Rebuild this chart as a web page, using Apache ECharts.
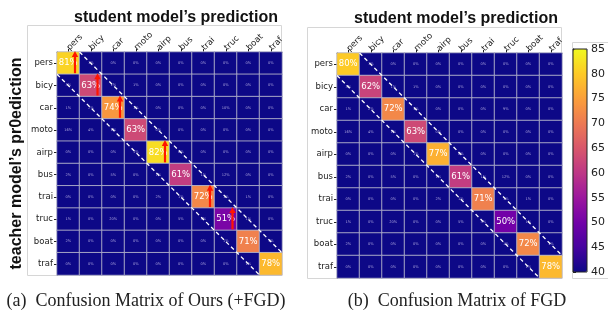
<!DOCTYPE html>
<html>
<head>
<meta charset="utf-8">
<script src="https://cdn.jsdelivr.net/npm/echarts@6/dist/echarts.min.js"></script>
<style>
	html, body { margin: 0; padding: 0; background: #fff; }
	#main { width: 608px; height: 314px; }
</style>
</head>
<body>
<div id="main"></div>
<script>
	// class names (rows = teacher, columns = student)
	var classes = ['pers', 'bicy', 'car', 'moto', 'airp', 'bus', 'trai', 'truc', 'boat', 'traf'];

	// confusion matrix (%) of Ours (+FGD)
	var oursRows = [
		[81, 1, 0, 0, 0, 0, 0, 0, 0, 0],
		[3, 63, 1, 1, 0, 0, 0, 0, 0, 0],
		[1, 2, 74, 1, 0, 0, 0, 10, 0, 0],
		[16, 4, 1, 63, 0, 0, 0, 0, 0, 0],
		[0, 0, 0, 1, 82, 0, 0, 0, 0, 0],
		[2, 0, 5, 0, 1, 61, 1, 12, 0, 0],
		[0, 0, 0, 0, 2, 1, 72, 1, 1, 0],
		[1, 0, 20, 0, 0, 5, 3, 51, 1, 0],
		[2, 0, 0, 0, 0, 0, 0, 1, 71, 1],
		[0, 0, 0, 0, 0, 0, 0, 0, 1, 78]
	];
	// confusion matrix (%) of FGD
	var fgdRows = [
		[80, 1, 0, 0, 0, 0, 0, 0, 0, 0],
		[3, 62, 1, 1, 0, 0, 0, 0, 0, 0],
		[1, 2, 72, 1, 0, 0, 0, 9, 0, 0],
		[16, 4, 1, 63, 0, 0, 0, 0, 0, 0],
		[0, 0, 0, 1, 77, 0, 0, 0, 0, 0],
		[2, 0, 5, 0, 1, 61, 1, 12, 0, 0],
		[0, 0, 0, 0, 2, 1, 71, 1, 1, 0],
		[1, 0, 20, 0, 0, 5, 3, 50, 1, 0],
		[2, 0, 0, 0, 0, 0, 0, 1, 72, 1],
		[0, 0, 0, 0, 0, 0, 0, 0, 1, 78]
	];
	// cells marked with a red arrow (improved over FGD): [col, row]
	var arrowCells = [[0, 0], [1, 1], [2, 2], [4, 4], [6, 6], [7, 7]];
	// dashed band around the diagonal (offset in cells)
	var bandOffsets = [[1], [-1]];
	// colorbar range
	var cbMin = 40, cbMax = 85, cbStep = 5;

	var plasma = ['#0d0887', '#46039f', '#7201a8', '#9c179e', '#bd3786', '#d8576b', '#ed7953', '#fb9f3a', '#fdca26', '#f0f921'];

	function toCells(rows) {
		var out = [];
		for (var r = 0; r < rows.length; r++) {
			for (var c = 0; c < rows[r].length; c++) {
				var diag = r === c;
				out.push({
					value: [c, r, rows[r][c]],
					label: diag
						? { fontSize: 8.5, color: '#fff' }
						: { fontSize: 3.6, color: '#aaa3dd' }
				});
			}
		}
		return out;
	}

	function catX(grid) {
		return {
			type: 'category', gridIndex: grid, data: classes, position: 'top',
			axisLine: { show: true, lineStyle: { color: '#222', width: 1 } },
			axisTick: { show: true, alignWithLabel: true, length: 3, lineStyle: { color: '#222' } },
			axisLabel: { rotate: -45, align: 'left', verticalAlign: 'middle', fontSize: 8.5, color: '#222', fontFamily: 'DejaVu Sans', margin: 3 },
			splitLine: { show: false }
		};
	}
	function catY(grid) {
		return {
			type: 'category', gridIndex: grid, data: classes, inverse: true,
			axisLine: { show: true, lineStyle: { color: '#222', width: 1 } },
			axisTick: { show: true, alignWithLabel: true, length: 3, lineStyle: { color: '#222' } },
			axisLabel: { fontSize: 8.5, color: '#222', fontFamily: 'DejaVu Sans', margin: 4 },
			splitLine: { show: false }
		};
	}

	function heat(xi, rows) {
		return {
			type: 'heatmap', xAxisIndex: xi, yAxisIndex: xi,
			data: toCells(rows),
			label: { show: true, fontFamily: 'DejaVu Sans', formatter: function (p) { return p.value[2] + '%'; } },
			itemStyle: { borderColor: 'rgba(185,185,205,0.85)', borderWidth: 1 },
			emphasis: { disabled: true }
		};
	}

	function bandSeries(xi) {
		return {
			type: 'custom', xAxisIndex: xi, yAxisIndex: xi, z: 5, silent: true,
			data: bandOffsets,
			renderItem: function (params, api) {
				var k = api.value(0);
				var n = classes.length;
				var sz = api.size([1, 1]);
				var a = api.coord([Math.max(k, 0), Math.max(-k, 0)]);
				var b = api.coord([n - 1 - Math.max(-k, 0), n - 1 - Math.max(k, 0)]);
				return {
					type: 'line',
					shape: { x1: a[0] - sz[0] / 2, y1: a[1] - sz[1] / 2, x2: b[0] + sz[0] / 2, y2: b[1] + sz[1] / 2 },
					style: { stroke: '#fff', lineWidth: 1.3, lineDash: [4, 3] }
				};
			}
		};
	}

	var myChart = echarts.init(document.getElementById('main'));

	var titleFont = { fontFamily: 'Liberation Sans', fontWeight: 'bold', fontSize: 16, color: '#111' };
	var capFont = { fontFamily: 'Liberation Serif', fontWeight: 'normal', fontSize: 18, color: '#222' };

	var option = {
		animation: false,
		backgroundColor: '#fff',
		title: [
			{ text: 'student model’s prediction', left: 176, top: 10, padding: 0, textAlign: 'center', textStyle: titleFont },
			{ text: 'student model’s prediction', left: 456, top: 11, padding: 0, textAlign: 'center', textStyle: titleFont },
			{ text: '(a)  Confusion Matrix of Ours (+FGD)', left: 146, top: 292, padding: 0, textAlign: 'center', textStyle: capFont },
			{ text: '(b)  Confusion Matrix of FGD', left: 457, top: 292, padding: 0, textAlign: 'center', textStyle: capFont }
		],
		graphic: [
			{ type: 'rect', shape: { x: 27.5, y: 25.5, width: 254, height: 250 }, style: { fill: 'none', stroke: '#d6d6d6', lineWidth: 1 }, z: -1 },
			{ type: 'rect', shape: { x: 307.5, y: 27.5, width: 254, height: 251 }, style: { fill: 'none', stroke: '#d6d6d6', lineWidth: 1 }, z: -1 },
			{ type: 'rect', shape: { x: 572.5, y: 42.5, width: 40, height: 236 }, style: { fill: 'none', stroke: '#d6d6d6', lineWidth: 1 }, z: -1 }
		],
		grid: [
			{ left: 57, top: 52, width: 225, height: 223 },
			{ left: 337, top: 53, width: 225, height: 225 },
			{ left: 573, top: 49, width: 14, height: 223, show: true, z: 10, borderColor: '#222', borderWidth: 1, backgroundColor: 'transparent' }
		],
		xAxis: [
			catX(0),
			catX(1),
			{ type: 'value', gridIndex: 2, show: false, min: 0, max: 1 }
		],
		yAxis: [
			Object.assign(catY(0), {
				name: 'teacher model’s pr0ediction', nameLocation: 'middle', nameRotate: 90, nameGap: 32,
				nameTextStyle: { fontFamily: 'Liberation Sans', fontWeight: 'bold', fontSize: 16, color: '#111' }
			}),
			catY(1),
			{
				type: 'value', gridIndex: 2, position: 'right', min: cbMin, max: cbMax, interval: cbStep,
				axisLine: { show: true, lineStyle: { color: '#222' } },
				axisTick: { show: true, length: 3, lineStyle: { color: '#222' } },
				axisLabel: { fontSize: 11, color: '#222', fontFamily: 'DejaVu Sans', margin: 4 },
				splitLine: { show: false }
			}
		],
		visualMap: {
			type: 'continuous', min: cbMin, max: cbMax, seriesIndex: [0, 1],
			calculable: false, orient: 'vertical', left: 573, top: 49, padding: 0,
			itemWidth: 14, itemHeight: 223, text: null, showLabel: false,
			inRange: { color: plasma },
			outOfRange: { color: '#0d0887' }
		},
		series: [
			heat(0, oursRows),
			heat(1, fgdRows),
			bandSeries(0),
			bandSeries(1),
			{
				type: 'custom', xAxisIndex: 0, yAxisIndex: 0, z: 6, silent: true,
				data: arrowCells,
				renderItem: function (params, api) {
					var c = api.coord([api.value(0), api.value(1)]);
					var sz = api.size([1, 1]);
					var x = c[0] + sz[0] * 0.3;
					var yb = c[1] + sz[1] * 0.45;
					var yt = c[1] - sz[1] * 0.55;
					return {
						type: 'group',
						children: [
							{ type: 'line', shape: { x1: x, y1: yb, x2: x, y2: yt + 5 }, style: { stroke: '#ff1500', lineWidth: 2.2 } },
							{ type: 'polygon', shape: { points: [[x - 3.2, yt + 6], [x + 3.2, yt + 6], [x, yt]] }, style: { fill: '#ff1500' } }
						]
					};
				}
			}
		]
	};
	myChart.setOption(option);
</script>
</body>
</html>
